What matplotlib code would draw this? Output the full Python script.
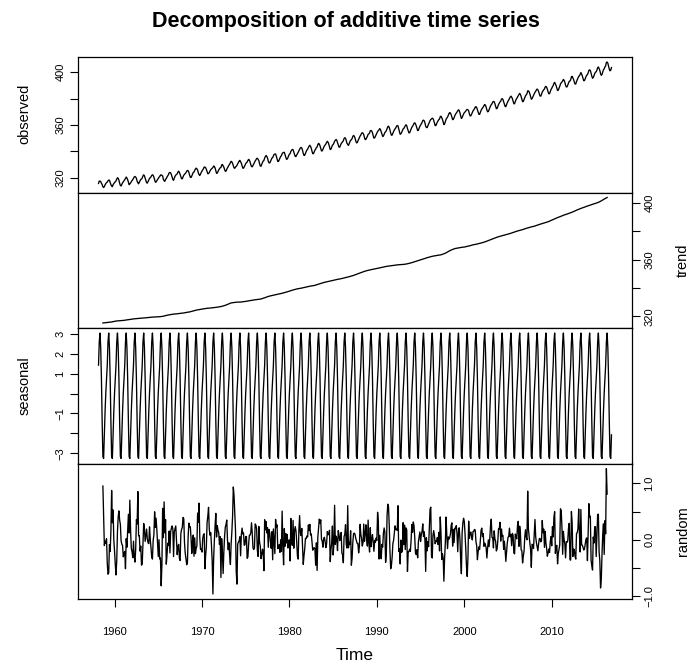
import numpy as np
import matplotlib
matplotlib.use("Agg")
import matplotlib.pyplot as plt

plt.rcParams["font.family"] = ["Liberation Sans", "DejaVu Sans"]

# Mauna Loa monthly CO2 (ppm), Mar 1958 - Nov 2016, one row per year
first_year = 1958
first_month = 3
co2_rows = [
    [315.71, 317.45, 317.50, 317.10, 315.86, 314.93, 313.20, 312.66, 313.33, 314.67],
    [315.62, 316.38, 316.71, 317.72, 318.29, 318.15, 316.54, 314.80, 313.84, 313.26, 314.80, 315.58],
    [316.43, 316.97, 317.58, 319.02, 320.03, 319.59, 318.18, 315.91, 314.16, 313.83, 315.00, 316.19],
    [316.93, 317.70, 318.54, 319.48, 320.58, 319.77, 318.57, 316.79, 314.80, 315.38, 316.10, 317.01],
    [317.94, 318.56, 319.68, 320.63, 321.01, 320.55, 319.58, 317.40, 316.26, 315.42, 316.69, 317.69],
    [318.74, 319.08, 319.86, 321.39, 322.25, 321.47, 319.74, 317.77, 316.21, 315.99, 317.12, 318.31],
    [319.57, 320.07, 320.73, 321.77, 322.25, 321.89, 320.44, 318.70, 316.70, 316.79, 317.79, 318.71],
    [319.44, 320.44, 320.89, 322.13, 322.16, 321.87, 321.39, 318.81, 317.81, 317.30, 318.87, 319.42],
    [320.62, 321.59, 322.39, 323.87, 324.01, 323.75, 322.39, 320.37, 318.64, 318.10, 319.79, 321.08],
    [322.07, 322.50, 323.04, 324.42, 325.00, 324.09, 322.55, 320.92, 319.31, 319.31, 320.72, 321.96],
    [322.57, 323.15, 323.89, 325.02, 325.57, 325.36, 324.14, 322.03, 320.41, 320.25, 321.31, 322.84],
    [324.00, 324.42, 325.64, 326.66, 327.34, 326.76, 325.88, 323.67, 322.38, 321.78, 322.85, 324.11],
    [325.03, 325.99, 326.87, 328.13, 328.07, 327.66, 326.35, 324.69, 323.10, 323.16, 323.98, 325.13],
    [326.17, 326.68, 327.18, 327.78, 328.92, 328.57, 327.34, 325.46, 323.36, 323.57, 324.80, 326.01],
    [326.77, 327.63, 327.75, 329.72, 330.07, 329.09, 328.05, 326.32, 324.93, 325.06, 326.50, 327.55],
    [328.54, 329.56, 330.30, 331.50, 332.48, 332.07, 330.87, 329.31, 327.51, 327.18, 328.16, 328.64],
    [329.35, 330.71, 331.48, 332.65, 333.19, 332.16, 331.07, 329.12, 327.32, 327.28, 328.30, 329.58],
    [330.73, 331.46, 331.90, 333.17, 333.94, 333.45, 331.97, 329.95, 328.50, 328.34, 329.37, 330.58],
    [331.59, 332.75, 333.52, 334.64, 334.77, 334.00, 333.06, 330.68, 328.95, 328.75, 330.15, 331.62],
    [332.66, 333.13, 334.95, 336.13, 336.93, 336.17, 334.88, 332.56, 331.29, 331.27, 332.41, 333.60],
    [334.95, 335.25, 336.66, 337.69, 338.03, 338.01, 336.41, 334.41, 332.37, 332.41, 333.75, 334.90],
    [336.14, 336.69, 338.27, 338.95, 339.21, 339.26, 337.54, 335.75, 333.98, 334.19, 335.31, 336.81],
    [337.90, 338.34, 340.01, 340.93, 341.48, 341.33, 339.40, 337.70, 336.19, 336.15, 337.27, 338.32],
    [339.29, 340.55, 341.61, 342.53, 343.03, 342.54, 340.78, 338.44, 336.95, 337.08, 338.58, 339.88],
    [340.96, 341.73, 342.81, 343.97, 344.63, 343.79, 342.32, 340.09, 338.28, 338.29, 339.60, 340.90],
    [341.68, 342.90, 343.33, 345.25, 346.03, 345.63, 344.19, 342.27, 340.35, 340.38, 341.59, 343.05],
    [344.10, 344.79, 345.52, 346.84, 347.63, 346.97, 345.53, 343.55, 341.40, 341.67, 343.10, 344.70],
    [345.21, 346.16, 347.74, 348.34, 349.06, 348.38, 346.72, 345.02, 343.27, 343.13, 344.49, 345.88],
    [346.56, 347.28, 348.01, 349.77, 350.38, 349.93, 348.16, 346.08, 345.22, 344.51, 345.93, 347.22],
    [348.52, 348.73, 349.73, 351.31, 352.09, 351.53, 350.11, 348.08, 346.52, 346.59, 347.96, 349.16],
    [350.39, 351.64, 352.40, 353.69, 354.21, 353.72, 352.69, 350.40, 348.92, 349.13, 350.20, 351.41],
    [352.91, 353.27, 353.96, 355.64, 355.86, 355.37, 353.99, 351.81, 350.05, 350.25, 351.49, 352.85],
    [353.80, 355.04, 355.73, 356.32, 357.32, 356.34, 354.84, 353.01, 351.31, 351.62, 353.07, 354.33],
    [354.84, 355.73, 357.23, 358.66, 359.13, 358.13, 356.19, 353.85, 352.25, 352.35, 353.81, 355.12],
    [356.25, 357.11, 357.86, 359.09, 359.59, 359.33, 357.01, 354.94, 352.96, 353.32, 354.32, 355.57],
    [357.00, 357.31, 358.47, 359.27, 360.19, 359.52, 357.33, 355.64, 354.03, 354.12, 355.41, 356.91],
    [358.24, 358.92, 359.99, 361.23, 361.65, 360.81, 359.38, 357.46, 355.73, 356.08, 357.53, 358.98],
    [359.92, 360.86, 361.83, 363.30, 363.69, 363.19, 361.64, 359.12, 358.17, 357.99, 359.45, 360.68],
    [362.07, 363.24, 364.17, 364.57, 365.13, 364.92, 363.55, 361.38, 359.54, 359.58, 360.89, 362.24],
    [363.09, 364.03, 364.51, 366.35, 366.64, 365.59, 364.31, 362.25, 360.29, 360.82, 362.49, 364.38],
    [365.26, 365.98, 367.24, 368.66, 369.42, 368.99, 367.82, 365.95, 364.02, 364.40, 365.52, 367.13],
    [368.18, 368.99, 369.67, 370.59, 371.51, 370.96, 369.30, 366.87, 364.93, 365.62, 367.03, 368.34],
    [369.28, 369.84, 370.46, 371.44, 371.82, 371.51, 370.71, 368.37, 366.86, 366.95, 368.23, 369.51],
    [370.68, 371.42, 372.30, 373.54, 373.89, 373.20, 371.51, 369.61, 368.07, 368.04, 369.50, 371.01],
    [372.12, 372.78, 373.73, 374.83, 375.52, 374.92, 373.49, 371.36, 370.00, 370.25, 371.52, 373.06],
    [374.43, 375.42, 376.05, 377.39, 377.86, 377.63, 376.12, 374.10, 372.35, 372.46, 373.97, 375.53],
    [376.58, 377.49, 378.04, 379.54, 379.99, 379.38, 377.69, 375.80, 374.05, 373.89, 375.39, 376.88],
    [378.06, 378.92, 379.98, 381.16, 381.85, 381.11, 379.95, 377.94, 376.07, 376.12, 377.82, 379.14],
    [380.16, 381.18, 382.13, 382.98, 383.93, 383.21, 381.51, 379.49, 377.66, 377.87, 379.34, 380.93],
    [382.14, 382.83, 383.68, 385.86, 385.81, 385.08, 383.54, 381.41, 379.51, 379.93, 381.20, 382.44],
    [383.74, 384.83, 385.45, 386.68, 387.23, 386.62, 385.38, 383.48, 381.89, 381.90, 383.29, 384.99],
    [385.84, 386.70, 387.26, 388.85, 389.26, 388.59, 387.05, 385.13, 383.66, 383.72, 385.34, 386.84],
    [387.81, 389.04, 389.82, 391.54, 392.31, 391.04, 389.84, 387.96, 386.12, 386.40, 387.83, 389.30],
    [391.08, 391.90, 392.55, 393.44, 394.51, 393.84, 392.39, 390.13, 388.80, 388.88, 390.32, 391.90],
    [393.07, 393.27, 394.20, 396.40, 396.86, 395.73, 394.51, 392.59, 391.00, 391.07, 392.91, 394.35],
    [395.57, 396.79, 397.30, 398.35, 399.76, 398.58, 397.20, 395.15, 393.51, 393.66, 395.14, 396.60],
    [397.73, 398.14, 399.55, 401.38, 401.78, 401.25, 399.10, 397.03, 395.38, 396.03, 397.28, 398.91],
    [399.98, 400.28, 401.54, 403.28, 403.96, 402.80, 401.31, 398.93, 397.63, 398.29, 400.16, 401.85],
    [402.52, 404.04, 404.83, 407.42, 407.70, 406.81, 404.39, 402.25, 401.03, 401.57, 403.53],
]

x_ticks = [1960, 1970, 1980, 1990, 2000, 2010]
panel_names = ["observed", "trend", "seasonal", "random"]

# classical additive decomposition (same as R decompose)
obs = np.array([v for row in co2_rows for v in row])
n = len(obs)
t = first_year + (first_month - 1) / 12 + np.arange(n) / 12
filt = np.r_[0.5, np.ones(11), 0.5] / 12
trend = np.full(n, np.nan)
trend[6:n - 6] = np.convolve(obs, filt, mode="valid")
month = (np.arange(n) + first_month - 1) % 12
detr = obs - trend
figure = np.array([np.nanmean(detr[month == k]) for k in range(12)])
figure -= figure.mean()
seasonal = figure[month]
rand = obs - trend - seasonal

series = [obs, trend, seasonal, rand]


def r_lim(v):
    lo, hi = np.nanmin(v), np.nanmax(v)
    d = (hi - lo) * 0.04
    return lo - d, hi + d


fig = plt.figure(figsize=(6.91, 6.66), dpi=100)
left, width = 78 / 691, 554 / 691
top, ph = 57 / 666, 135.5 / 666

yticks = [
    ([320, 340, 360, 380, 400], ["320", "", "360", "", "400"]),
    ([320, 340, 360, 380, 400], ["320", "", "360", "", "400"]),
    ([-3, -2, -1, 0, 1, 2, 3], ["\u22123", "", "\u22121", "", "1", "2", "3"]),
    ([-1.0, -0.5, 0.0, 0.5, 1.0], ["\u22121.0", "", "0.0", "", "1.0"]),
]
# vertical position of the side labels (axes fraction)
label_y = [0.58, 0.5, 0.575, 0.5]

for i, (vals, name) in enumerate(zip(series, panel_names)):
    bottom = 1 - top - ph * (i + 1)
    ax = fig.add_axes([left, bottom, width, ph])
    ax.plot(t, vals, color="black", linewidth=0.95)
    ax.set_xlim(r_lim(t))
    ax.set_ylim(r_lim(vals))
    for s in ax.spines.values():
        s.set_linewidth(0.9)
    ticks, labels = yticks[i]
    ax.set_yticks(ticks)
    ax.set_yticklabels(labels)
    right = i % 2 == 1
    if right:
        ax.yaxis.tick_right()
    ax.tick_params(axis="y", direction="out", length=5.5, width=0.8,
                   labelsize=8, pad=3.5, labelrotation=90)
    for lab in ax.get_yticklabels():
        lab.set_verticalalignment("center")
    ax.text(1.092 if right else -0.096, label_y[i], name, transform=ax.transAxes,
            rotation=90, ha="center", va="center", fontsize=10.5)
    if i == 3:
        ax.set_xticks(x_ticks)
        ax.tick_params(axis="x", direction="out", length=5.5, width=0.8,
                       labelsize=8, pad=15)
    else:
        ax.set_xticks([])

fig.text(355 / 691, 1 - 655 / 666, "Time", ha="center", va="center", fontsize=12.5)
fig.suptitle("Decomposition of additive time series", y=1 - 22 / 666,
             fontsize=15.5, fontweight="bold", va="center")

plt.savefig("out.png", dpi=100)
